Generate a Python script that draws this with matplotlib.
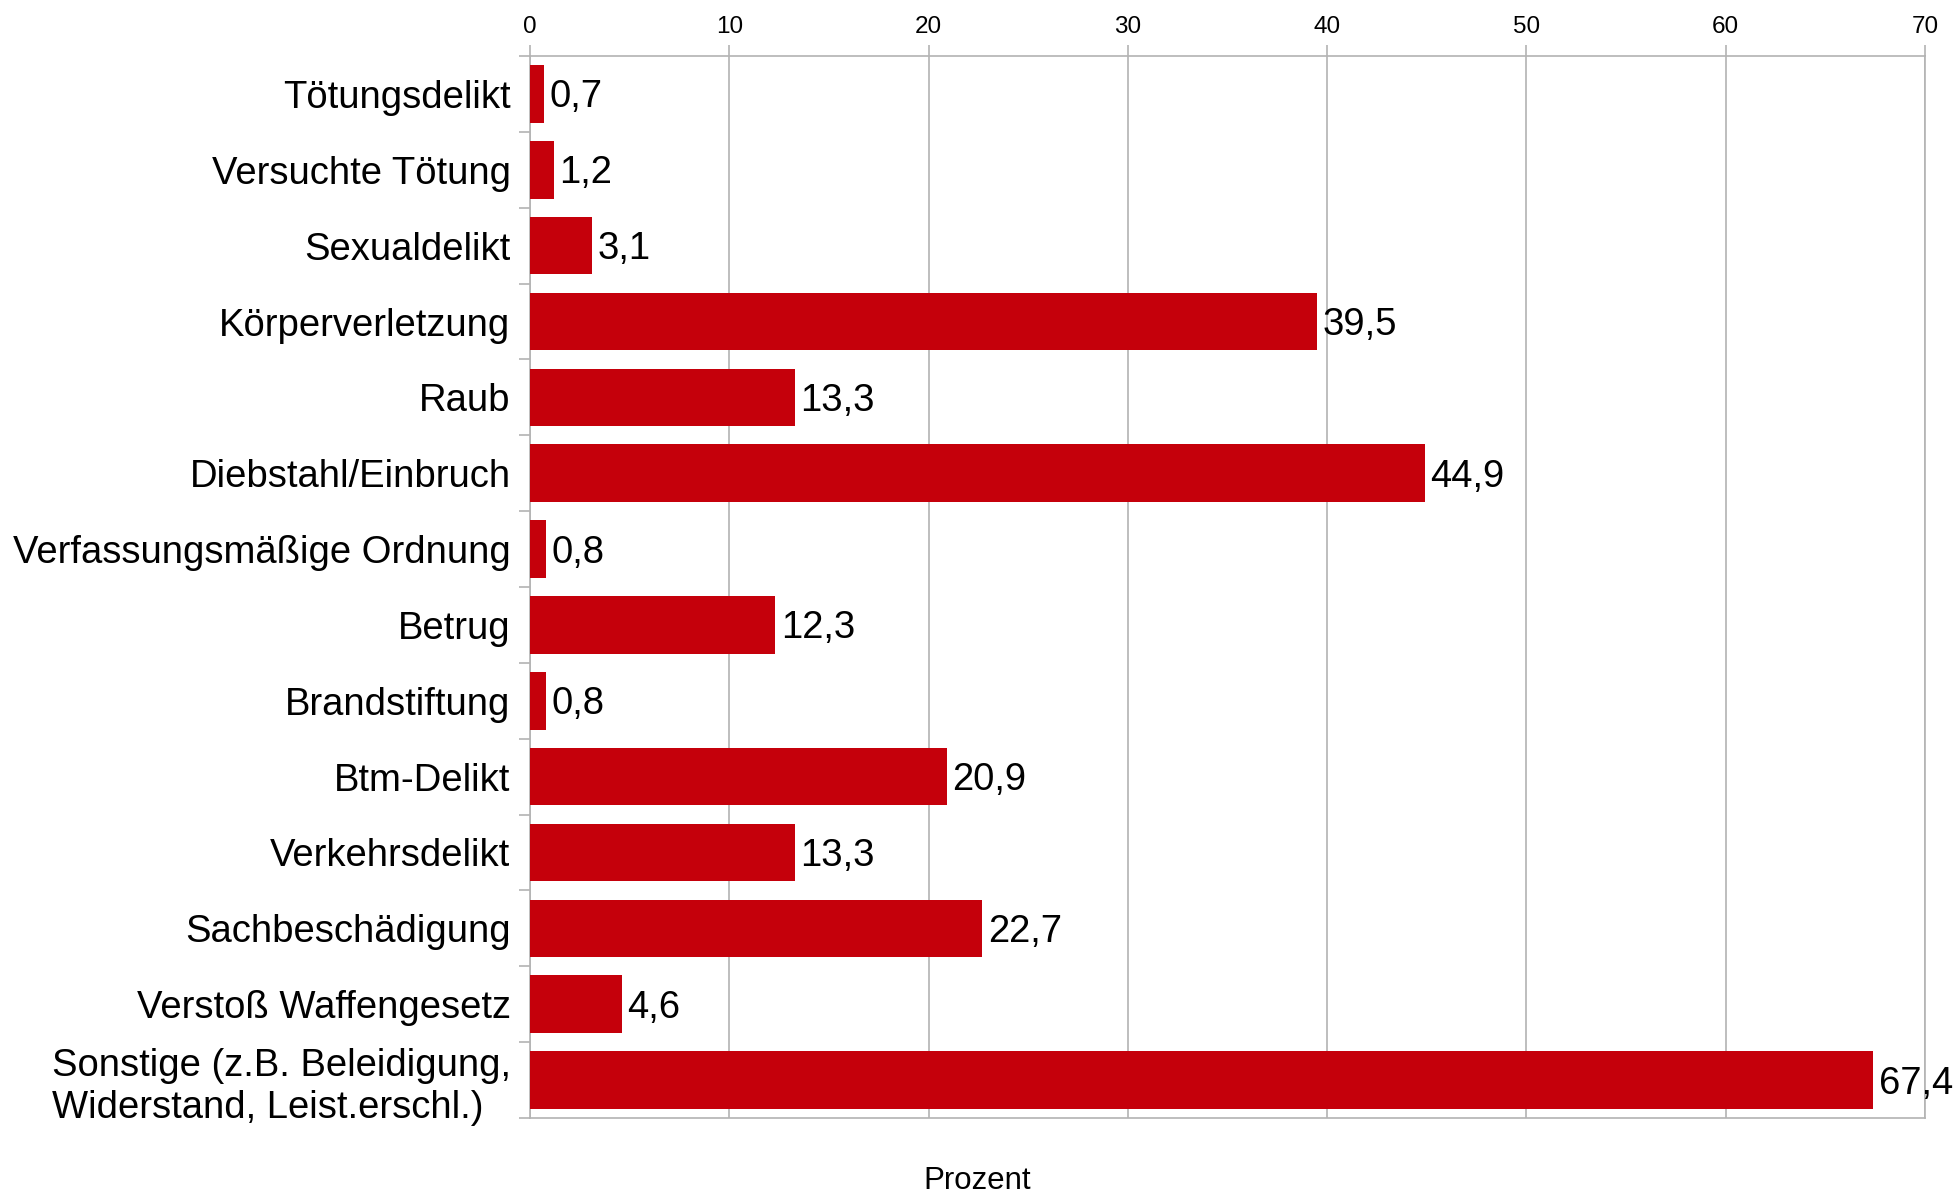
import matplotlib
matplotlib.use("Agg")
import matplotlib.pyplot as plt
import numpy as np

plt.rcParams['font.family'] = ['Liberation Sans', 'DejaVu Sans']

categories = ["Tötungsdelikt", "Versuchte Tötung", "Sexualdelikt", "Körperverletzung",
              "Raub", "Diebstahl/Einbruch", "Verfassungsmäßige Ordnung", "Betrug",
              "Brandstiftung", "Btm-Delikt", "Verkehrsdelikt", "Sachbeschädigung",
              "Verstoß Waffengesetz",
              "Sonstige (z.B. Beleidigung,\nWiderstand, Leist.erschl.)"]
prozent = [0.7, 1.2, 3.1, 39.5, 13.3, 44.9, 0.8, 12.3, 0.8, 20.9, 13.3, 22.7, 4.6, 67.4]
x_ticks = [0, 10, 20, 30, 40, 50, 60, 70]

bar_color = "#c5000b"
grid_color = "#b3b3b3"

fig = plt.figure(figsize=(19.59, 11.93), dpi=100)
ax = fig.add_axes([530 / 1959, 1 - 1118 / 1193, (1925 - 530) / 1959, (1118 - 56) / 1193])

pos = np.arange(len(categories))
ax.barh(pos, prozent, height=0.76, color=bar_color, zorder=3)

for p, v in zip(pos, prozent):
    ax.annotate(f"{v:.1f}".replace(".", ","), xy=(v, p), xytext=(4, -2.5),
                textcoords="offset points", va="center", ha="left",
                fontsize=27.5, color="black", zorder=4)

ax.set_xlim(0, 70)
ax.set_ylim(len(categories) - 0.5, -0.5)

# values on top, gridlines at every 10 %
ax.xaxis.tick_top()
ax.set_xticks(x_ticks)
ax.set_xticklabels([str(t) for t in x_ticks], fontsize=17.5)
ax.tick_params(axis="x", direction="out", length=8, width=1.2, color=grid_color, pad=5)
ax.grid(axis="x", color=grid_color, linewidth=1.2, zorder=0)

# category names centred, tick marks between the bands
ax.set_yticks(pos)
ax.set_yticklabels(categories, fontsize=27.5)
for lbl in ax.get_yticklabels():
    lbl.set_multialignment("left")
ax.tick_params(axis="y", which="major", length=0, pad=14)
ax.set_yticks(np.arange(len(categories) + 1) - 0.5, minor=True)
ax.tick_params(axis="y", which="minor", direction="out", length=8, width=1.2, color=grid_color)

for s in ax.spines.values():
    s.set_color(grid_color)
    s.set_linewidth(1.2)

fig.text(977 / 1959, 4 / 1193, "Prozent", ha="center", va="baseline", fontsize=22.5)

fig.savefig("out.png", dpi=100)
